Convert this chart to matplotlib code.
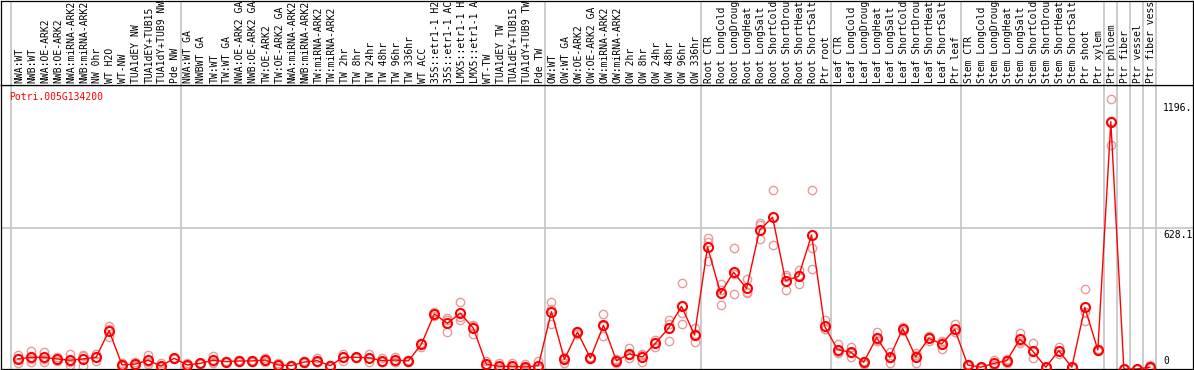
import matplotlib
matplotlib.use('Agg')
import matplotlib.pyplot as plt
import numpy as np

gene = "Potri.005G134200"

labels = ["NWA:WT", "NWB:WT", "NWA:OE-ARK2", "NWB:OE-ARK2", "NWA:miRNA-ARK2", "NWB:miRNA-ARK2",
          "NW 0hr", "WT H2O", "WT-NW", "TUA1dEY NW", "TUA1dEY+TUB15", "TUA1dY+TUB9 NW", "Pde NW",
          "NWA:WT GA", "NWBWT GA", "TW:WT", "TW:WT GA", "NWA:OE-ARK2 GA", "NWB:OE-ARK2 GA",
          "TW:OE-ARK2", "TW:OE-ARK2 GA", "NWA:miRNA-ARK2", "NWB:miRNA-ARK2", "TW:miRNA-ARK2",
          "TW:miRNA-ARK2", "TW 2hr", "TW 8hr", "TW 24hr", "TW 48hr", "TW 96hr", "TW 336hr",
          "WT ACC", "35S::etr1-1 H2O", "35S::etr1-1 ACC", "LMX5::etr1-1 H2O", "LMX5::etr1-1 ACC",
          "WT-TW", "TUA1dEY TW", "TUA1dEY+TUB15", "TUA1dY+TUB9 TW", "Pde TW",
          "OW:WT", "OW:WT GA", "OW:OE-ARK2", "OW:OE-ARK2 GA", "OW:miRNA-ARK2", "OW:miRNA-ARK2",
          "OW 2hr", "OW 8hr", "OW 24hr", "OW 48hr", "OW 96hr", "OW 336hr",
          "Root CTR", "Root LongCold", "Root LongDrought", "Root LongHeat", "Root LongSalt",
          "Root ShortCold", "Root ShortDrought", "Root ShortHeat", "Root ShortSalt", "Ptr root",
          "Leaf CTR", "Leaf LongCold", "Leaf LongDrought", "Leaf LongHeat", "Leaf LongSalt",
          "Leaf ShortCold", "Leaf ShortDrought", "Leaf ShortHeat", "Leaf ShortSalt", "Ptr leaf",
          "Stem CTR", "Stem LongCold", "Stem LongDrought", "Stem LongHeat", "Stem LongSalt",
          "Stem ShortCold", "Stem ShortDrought", "Stem ShortHeat", "Stem ShortSalt", "Ptr shoot",
          "Ptr xylem", "Ptr phloem", "Ptr fiber", "Ptr vessel", "Ptr fiber vessel"]

means = [45, 52, 52, 45, 39, 45, 52, 171, 18, 22, 39, 13, 48,
         18, 25, 39, 33, 36, 36, 40, 18, 15, 31, 37, 15, 52, 52, 50, 37, 40, 36,
         110, 246, 204, 249, 182, 21, 12, 12, 9, 15,
         256, 43, 165, 48, 195, 37, 68, 54, 115, 182, 280, 152,
         545, 338, 432, 360, 620, 677, 394, 414, 598, 191,
         86, 75, 30, 140, 52, 180, 54, 137, 112, 177,
         18, 8, 25, 37, 133, 80, 8, 82, 8, 275, 85,
         1104, 0, 0, 8]

rep_hi = [62, 80, 77, 55, 66, 58, 67, 193, 25, 33, 62, 28, 50,
          25, 28, 58, 36, 40, 40, 49, 28, 18, 34, 48, 18, 67, 55, 67, 48, 55, 40,
          117, 256, 226, 298, 196, 36, 28, 25, 22, 36,
          298, 55, 170, 52, 244, 40, 95, 68, 129, 219, 383, 182,
          586, 378, 539, 400, 650, 799, 420, 442, 799, 219,
          112, 100, 36, 164, 77, 189, 73, 147, 126, 200,
          22, 10, 40, 46, 159, 115, 10, 100, 10, 356, 89,
          1205, 0, 0, 18]

rep_lo = [25, 33, 33, 36, 18, 13, 36, 142, 13, 13, 22, 9, 46,
          13, 22, 27, 30, 33, 33, 33, 9, 12, 28, 31, 12, 36, 49, 33, 30, 33, 33,
          100, 237, 167, 219, 156, 13, 5, 5, 3, 5,
          200, 25, 158, 44, 149, 28, 48, 33, 100, 125, 201, 119,
          483, 284, 333, 338, 579, 554, 353, 379, 446, 177,
          70, 55, 24, 125, 28, 171, 28, 127, 88, 165,
          14, 6, 18, 25, 115, 48, 6, 67, 6, 214, 80,
          999, 0, 0, 3]

rep_mid = [48, 43, 46, 44, 33, 64, 53, 178, 16, 20, 33, 2, 48,
           16, 25, 32, 33, 35, 35, 38, 17, 15, 31, 32, 15, 53, 52, 50, 33, 32, 35,
           113, 245, 219, 230, 194, 14, 3, 6, 2, 4,
           270, 49, 167, 48, 192, 43, 61, 61, 116, 202, 251, 155,
           568, 352, 424, 342, 643, 678, 409, 421, 541, 177,
           76, 70, 30, 131, 51, 180, 61, 137, 122, 166,
           18, 8, 17, 40, 125, 77, 8, 79, 8, 255, 86,
           1108, 0, 0, 3]

group_breaks = [-0.5, 12.5, 40.5, 52.5, 62.5, 72.5, 83.5, 84.5, 85.5, 86.5, 87.5]
grid_value = 628.1
yaxis_values = [1196, 628.1, 0]
yaxis_text = ["1196.", "628.1", "0"]

W, H = 1194, 370
mono = 'DejaVu Sans Mono'
grey = '#c4c4c4'
rep_color = '#eb9a9a'

fig = plt.figure(figsize=(W / 100, H / 100), dpi=100)
ax = fig.add_axes([1 / W, 1 / H, 1192 / W, 284 / H])
top = fig.add_axes([1 / W, 285 / H, 1192 / W, 84.5 / H])

x = np.arange(len(labels))
xlim = ((1 - 18) / 13.01, (1193 - 18) / 13.01)

# replicates, then the mean line
for reps in (rep_hi, rep_lo, rep_mid):
	ax.plot(x, reps, 'o', ms=6, mfc='none', mec=rep_color, mew=1.0, zorder=2)
ax.plot(x, means, '-', color='red', lw=1.0, zorder=3)
ax.plot(x, means, 'o', ms=6.5, mfc='none', mec='red', mew=1.5, zorder=4)

for b in group_breaks:
	ax.axvline(b, color=grey, lw=1.2, zorder=1)
	top.axvline(b, color=grey, lw=1.2, zorder=1)
ax.axhline(grid_value, color=grey, lw=1.2, zorder=1)

ax.set_xlim(*xlim)
ax.set_ylim(0, 1268)
top.set_xlim(*xlim)
top.set_ylim(0, 1)

for a in (ax, top):
	a.set_xticks([])
	a.set_yticks([])
	for s in a.spines.values():
		s.set_linewidth(0.9)
		s.set_color('black')

for i, lab in enumerate(labels):
	top.text(i + 0.1, 0.025, lab, rotation=90, ha='center', va='bottom', fontsize=7,
	         family=mono, clip_on=True)

ax.text(8 / 1192, 1 - 11.5 / 284, gene, transform=ax.transAxes, color='red',
        fontsize=7, family=mono, va='center', ha='left')

ytrans = ax.get_yaxis_transform()
for v, t in zip(yaxis_values, yaxis_text):
	if v == 0:
		ax.annotate(t, (1162 / 1192, v), xycoords=ytrans, xytext=(0, 3),
		            textcoords='offset pixels', ha='left', va='bottom', fontsize=7, family=mono)
	else:
		ax.annotate(t, (1162 / 1192, v), xycoords=ytrans, xytext=(0, -1.5),
		            textcoords='offset pixels', ha='left', va='top', fontsize=7, family=mono)

fig.savefig('out.png', dpi=100)
print("wrote to: out.png")
